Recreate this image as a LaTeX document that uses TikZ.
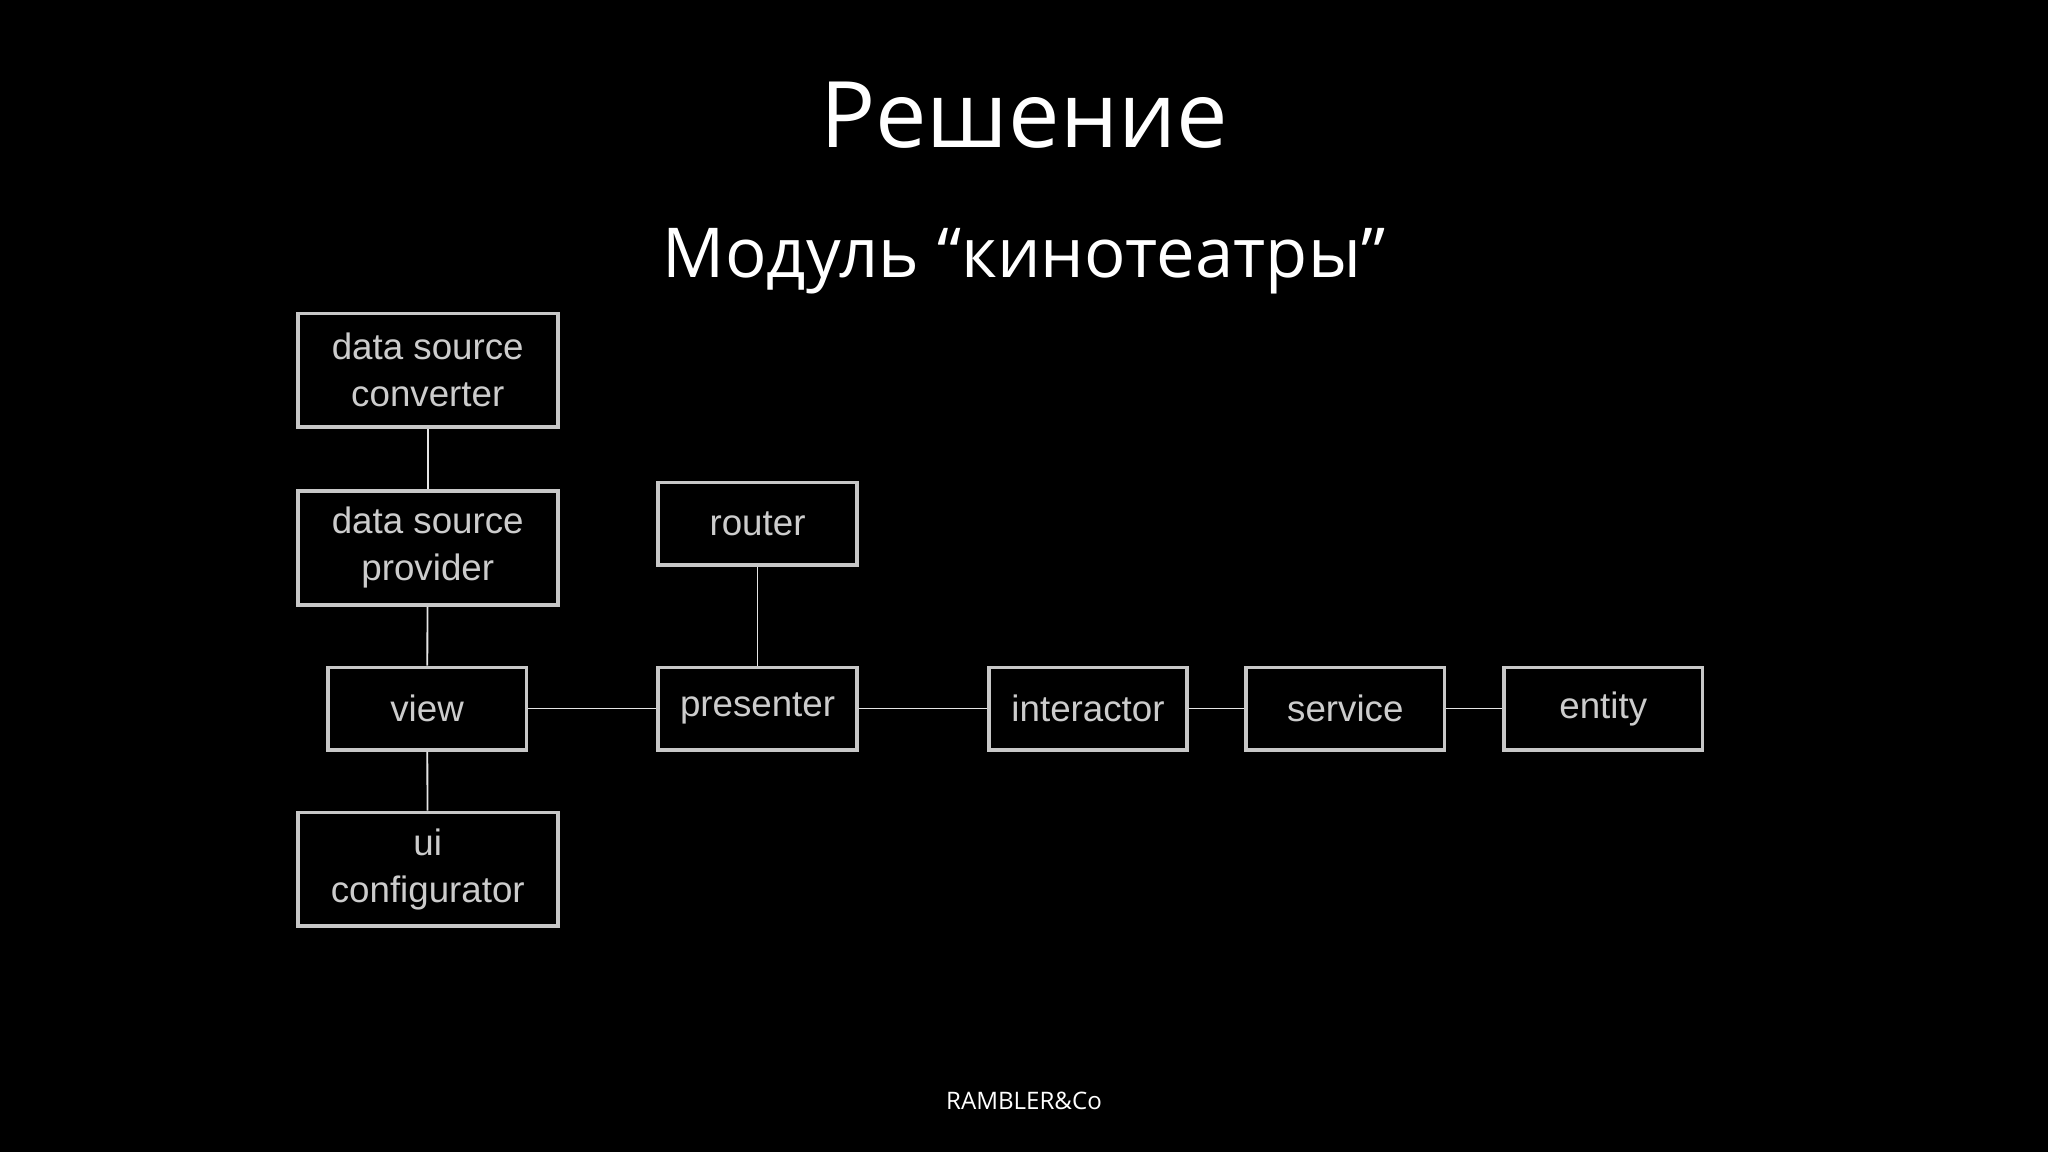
\documentclass[tikz,border=0pt]{standalone}
\usepackage{fontspec}
\setmainfont{Liberation Sans}
\newfontfamily\titlefont{Open Sans}
\begin{document}
\begin{tikzpicture}[x=0.02cm,y=-0.02cm,
  box/.style={draw=white!78!black,line width=1.6pt,text=white!80!black,align=center,
    font=\fontsize{16}{20.5}\selectfont,inner sep=0pt},
  big/.style={box,minimum width=3.98cm,minimum height=1.74cm},
  small/.style={box,minimum width=3.04cm,minimum height=1.26cm},
  link/.style={draw=white!90!black,line width=0.8pt}]
\fill[black] (0,0) rectangle (1568,882);
\useasboundingbox (0,0) rectangle (1568,882);
\node[text=white,font=\titlefont\fontsize{40}{48}\selectfont] (t) at (784,88) {Решение};
\node[text=white,font=\titlefont\fontsize{30}{36}\selectfont] (s) at (784,200) {Модуль “кинотеатры”};
\node[text=white,font=\titlefont\fontsize{10.5}{12}\selectfont] (r) at (784,843) {RAMBLER\&Co};
\node[big] (dsc) at (327.5,283.5) {data source\\converter};
\node[big] (dsp) at (327.5,419.5) {data source\\provider};
\node[small] (view) at (327,542.5) {view};
\node[big] (ui) at (327.5,665.5) {ui\\configurator};
\node[small] (router) at (580,401) {router};
\node[small] (pres) at (580,542.5) {presenter};
\node[small] (inter) at (833,542.5) {interactor};
\node[small] (serv) at (1030,542.5) {service};
\node[small] (ent) at (1227.5,542.5) {entity};
\draw[link] (dsc) -- (dsp);
\draw[link] (dsp) -- (view);
\draw[link] (view) -- (ui);
\draw[link] (view) -- (pres);
\draw[link] (router) -- (pres);
\draw[link] (pres) -- (inter);
\draw[link] (inter) -- (serv);
\draw[link] (serv) -- (ent);
\end{tikzpicture}
\end{document}
